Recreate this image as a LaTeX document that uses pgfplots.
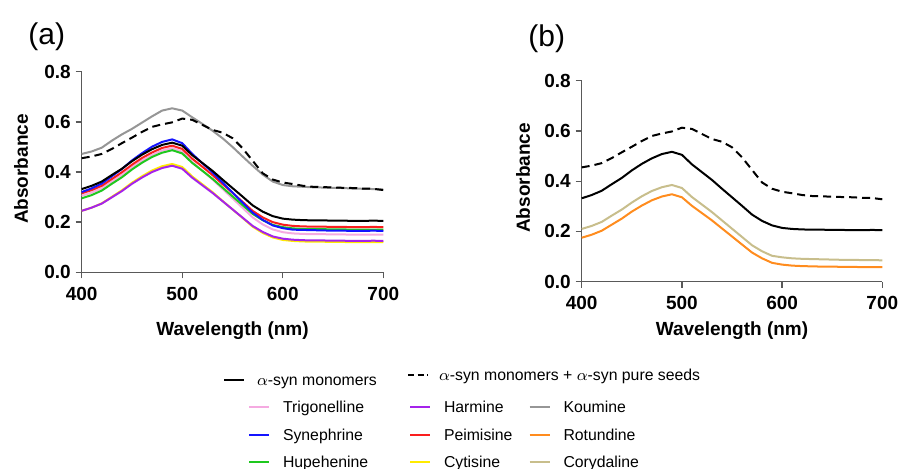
\documentclass[border=0pt]{standalone}
\usepackage{pgfplots}
\usepackage{pgfplotstable}
\pgfplotsset{compat=1.18}
\usepackage{fontspec}
\setmainfont{Liberation Sans}

\definecolor{cpink}{RGB}{245,170,225}
\definecolor{cpurple}{RGB}{165,35,235}
\definecolor{cgray}{RGB}{150,150,150}
\definecolor{cblue}{RGB}{20,20,255}
\definecolor{cred}{RGB}{250,30,30}
\definecolor{corange}{RGB}{255,140,30}
\definecolor{cgreen}{RGB}{30,200,30}
\definecolor{cyellow}{RGB}{255,235,0}
\definecolor{ctan}{RGB}{200,190,140}

% columns: wavelength, monomers, seeds(dashed), trigonelline, harmine, koumine, synephrine, peimisine, rotundine, hupehenine, cytisine, corydaline
\pgfplotstableread{
wl   mono  seed  trig  harm  koum  syne  peim  rotu  hupe  cyti  cory
400  0.332 0.455 0.305 0.245 0.472 0.320 0.315 0.175 0.295 0.245 0.210
410  0.345 0.462 0.318 0.258 0.482 0.335 0.328 0.187 0.308 0.258 0.222
420  0.362 0.472 0.335 0.274 0.497 0.354 0.345 0.203 0.326 0.275 0.238
430  0.388 0.492 0.362 0.299 0.525 0.383 0.372 0.227 0.353 0.301 0.263
440  0.413 0.515 0.389 0.324 0.550 0.412 0.399 0.251 0.379 0.327 0.287
450  0.443 0.537 0.419 0.353 0.572 0.446 0.429 0.279 0.410 0.357 0.315
460  0.469 0.560 0.446 0.378 0.597 0.475 0.456 0.303 0.437 0.383 0.340
470  0.491 0.580 0.468 0.400 0.622 0.501 0.478 0.324 0.460 0.406 0.361
480  0.508 0.590 0.486 0.416 0.645 0.520 0.496 0.339 0.477 0.423 0.376
490  0.517 0.598 0.495 0.425 0.654 0.530 0.505 0.348 0.487 0.432 0.385
500  0.505 0.613 0.481 0.413 0.645 0.515 0.492 0.336 0.474 0.420 0.373
510  0.467 0.608 0.440 0.377 0.618 0.472 0.453 0.302 0.436 0.382 0.337
520  0.436 0.588 0.405 0.347 0.592 0.435 0.421 0.273 0.405 0.351 0.307
530  0.405 0.568 0.371 0.317 0.565 0.399 0.388 0.244 0.373 0.320 0.277
540  0.370 0.557 0.333 0.284 0.535 0.358 0.352 0.212 0.338 0.285 0.244
550  0.336 0.535 0.295 0.251 0.500 0.318 0.317 0.180 0.303 0.251 0.211
560  0.302 0.495 0.257 0.218 0.462 0.278 0.281 0.148 0.268 0.217 0.178
570  0.267 0.445 0.219 0.185 0.425 0.238 0.245 0.116 0.233 0.182 0.145
580  0.242 0.395 0.191 0.161 0.390 0.209 0.219 0.093 0.208 0.157 0.121
590  0.224 0.370 0.171 0.143 0.362 0.187 0.200 0.075 0.189 0.139 0.103
600  0.214 0.358 0.160 0.134 0.348 0.176 0.190 0.068 0.180 0.129 0.097
610  0.210 0.352 0.155 0.130 0.343 0.170 0.185 0.064 0.175 0.125 0.093
620  0.208 0.345 0.153 0.128 0.341 0.169 0.183 0.062 0.173 0.123 0.091
630  0.207 0.341 0.152 0.127 0.339 0.168 0.182 0.061 0.172 0.122 0.090
640  0.207 0.340 0.152 0.127 0.338 0.167 0.182 0.060 0.172 0.122 0.089
650  0.206 0.338 0.151 0.126 0.337 0.166 0.181 0.060 0.171 0.121 0.088
660  0.206 0.337 0.151 0.126 0.336 0.166 0.181 0.059 0.171 0.121 0.087
670  0.205 0.336 0.150 0.125 0.334 0.165 0.180 0.059 0.170 0.120 0.087
680  0.205 0.334 0.150 0.125 0.333 0.165 0.180 0.058 0.170 0.120 0.086
690  0.206 0.333 0.150 0.126 0.332 0.166 0.181 0.058 0.170 0.120 0.086
700  0.205 0.328 0.150 0.125 0.330 0.165 0.180 0.058 0.170 0.120 0.085
}\spectra

\pgfplotsset{
  panel/.style={
    scale only axis,
    xmin=400, xmax=700, ymin=0, ymax=0.8,
    axis lines=left,
    axis line style={-, draw=black!65, line width=0.7pt},
    tick align=outside,
    major tick length=3pt,
    every tick/.style={draw=black!65, line width=0.7pt},
    xtick={400,500,600,700},
    xticklabels={400,500,600,700},
    ytick={0,0.2,0.4,0.6,0.8},
    yticklabels={0.0,0.2,0.4,0.6,0.8},
    ticklabel style={font=\fontsize{9.5}{11}\selectfont\bfseries, inner sep=2.3pt},
    xticklabel style={yshift=-2pt},
    label style={font=\fontsize{9.5}{11}\selectfont\bfseries},
    xlabel={Wavelength (nm)},
    ylabel={Absorbance},
    clip=false,
    every axis plot/.append style={line width=1pt, line join=round},
  },
  legax/.style={
    hide axis, scale only axis, width=1pt, height=1pt,
    xmin=0, xmax=1, ymin=0, ymax=1,
    anchor=north west,
    legend style={at={(0,1)}, anchor=north west, draw=none, fill=none,
      inner sep=0pt, outer sep=0pt,
      font=\fontsize{7.9}{9}\selectfont,
      row sep=7.95pt,
      nodes={inner sep=0pt, text height=5.7pt, text depth=0pt},
      /tikz/every odd column/.append style={column sep=6.5pt}},
    legend cell align=left,
    legend image code/.code={\draw[##1, line width=1pt] (0pt,0pt) -- (10pt,0pt);},
  },
}

\begin{document}
\begin{tikzpicture}
\useasboundingbox (0,0) rectangle (449.5pt,234.5pt);

\node[anchor=base west, inner sep=0pt, font=\fontsize{15}{17}\selectfont] at (14pt,212pt) {(a)};
\node[anchor=base west, inner sep=0pt, font=\fontsize{15}{17}\selectfont] at (264pt,211pt) {(b)};

% Panel (a)
\begin{axis}[panel, at={(40.85pt,98.35pt)}, anchor=south west,
  width=150.8pt, height=100.3pt,
  xlabel style={at={(axis description cs:0.5,-0.314)}, anchor=base},
  ylabel style={at={(axis description cs:-0.201,0.515)}, anchor=center}]
\addplot[cgray] table[x=wl, y=koum] {\spectra};
\addplot[cpink] table[x=wl, y=trig] {\spectra};
\addplot[cgreen] table[x=wl, y=hupe] {\spectra};
\addplot[cred] table[x=wl, y=peim] {\spectra};
\addplot[cblue] table[x=wl, y=syne] {\spectra};
\addplot[cyellow] table[x=wl, y=cyti] {\spectra};
\addplot[cpurple] table[x=wl, y=harm] {\spectra};
\addplot[black] table[x=wl, y=mono] {\spectra};
\addplot[black, dash pattern=on 4pt off 2.5pt] table[x=wl, y=seed] {\spectra};
\end{axis}

% Panel (b)
\begin{axis}[panel, at={(290.85pt,93.65pt)}, anchor=south west,
  width=150.3pt, height=100.5pt,
  xlabel style={at={(axis description cs:0.5,-0.267)}, anchor=base},
  ylabel style={at={(axis description cs:-0.195,0.516)}, anchor=center}]
\addplot[ctan] table[x=wl, y=cory] {\spectra};
\addplot[corange] table[x=wl, y=rotu] {\spectra};
\addplot[black] table[x=wl, y=mono] {\spectra};
\addplot[black, dash pattern=on 4pt off 2.5pt] table[x=wl, y=seed] {\spectra};
\end{axis}

% Legend row 1
\begin{axis}[legax, at={(111.5pt,47.35pt)},
  legend style={/tikz/every odd column/.append style={column sep=6pt}}]
\addlegendimage{black}
\addlegendentry{$\alpha$-syn monomers}
\end{axis}
\begin{axis}[legax, at={(203.5pt,49.85pt)},
  legend style={/tikz/every odd column/.append style={column sep=5pt}}]
\addlegendimage{black, dash pattern=on 3pt off 1.8pt}
\addlegendentry{$\alpha$-syn monomers + $\alpha$-syn pure seeds}
\end{axis}

% Legend columns
\begin{axis}[legax, at={(124pt,33.7pt)}]
\addlegendimage{cpink}\addlegendentry{Trigonelline}
\addlegendimage{cblue}\addlegendentry{Synephrine}
\addlegendimage{cgreen}\addlegendentry{Hupehenine}
\end{axis}
\begin{axis}[legax, at={(204.5pt,33.7pt)}]
\addlegendimage{cpurple}\addlegendentry{Harmine}
\addlegendimage{cred}\addlegendentry{Peimisine}
\addlegendimage{cyellow}\addlegendentry{Cytisine}
\end{axis}
\begin{axis}[legax, at={(264.25pt,33.7pt)}]
\addlegendimage{cgray}\addlegendentry{Koumine}
\addlegendimage{corange}\addlegendentry{Rotundine}
\addlegendimage{ctan}\addlegendentry{Corydaline}
\end{axis}
\end{tikzpicture}
\end{document}
